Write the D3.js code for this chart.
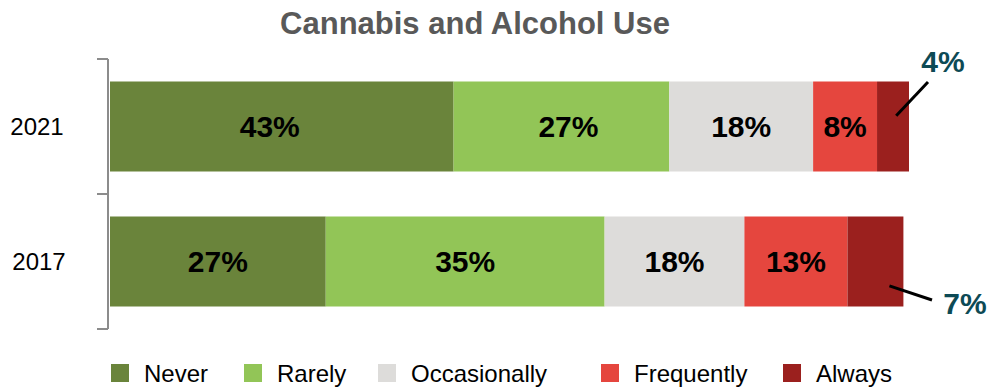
<!DOCTYPE html>
<html>
<head>
<meta charset="utf-8">
<script src="https://cdn.jsdelivr.net/npm/d3@7"></script>
<style>
  body { margin: 0; background: #fff; }
  svg { font-family: "Liberation Sans", Arial, sans-serif; }
</style>
</head>
<body>
<div id="chart"></div>
<script>
const years = ["2021", "2017"];
const categories = ["Never", "Rarely", "Occasionally", "Frequently", "Always"];
const colors = ["#6a843b", "#92c557", "#dddcda", "#e5463e", "#9b201e"];
const values2021 = [43, 27, 18, 8, 4];
const values2017 = [27, 34.9, 17.5, 12.9, 7];

const width = 988;
const height = 388;

const svg = d3.select("#chart")
  .append("svg")
  .attr("width", width)
  .attr("height", height);

const x = d3.scaleLinear().domain([0, 100]).range([110, 909]);
const y = d3.scaleBand()
  .domain(years)
  .range([59, 329])
  .paddingInner(1 / 3)
  .paddingOuter(1 / 6);

const rows = [values2021, values2017].map((vals, i) => {
  let acc = 0;
  return vals.map((v, j) => {
    const seg = { year: years[i], cat: categories[j], color: colors[j], value: v, x0: acc, x1: acc + v };
    acc += v;
    return seg;
  });
});

// Title
svg.append("text")
  .attr("x", 475)
  .attr("y", 34)
  .attr("text-anchor", "middle")
  .attr("font-size", 31)
  .attr("font-weight", "bold")
  .attr("fill", "#595959")
  .text("Cannabis and Alcohol Use");

// Bars
const segs = rows.flat();
svg.selectAll("rect.seg")
  .data(segs)
  .enter()
  .append("rect")
  .attr("class", "seg")
  .attr("x", (d) => x(d.x0))
  .attr("y", (d) => y(d.year))
  .attr("width", (d) => x(d.x1) - x(d.x0))
  .attr("height", y.bandwidth())
  .attr("fill", (d) => d.color);

// labels in the original aren't all perfectly centred
const nudge = { "2021 Never": -12, "2021 Rarely": 7 };

// Inside labels (all except Always)
svg.selectAll("text.inlab")
  .data(segs.filter((d) => d.cat !== "Always"))
  .enter()
  .append("text")
  .attr("class", "inlab")
  .attr("x", (d) => (x(d.x0) + x(d.x1)) / 2 + (nudge[d.year + " " + d.cat] || 0))
  .attr("y", (d) => y(d.year) + y.bandwidth() / 2)
  .attr("dy", "0.36em")
  .attr("text-anchor", "middle")
  .attr("font-size", 30)
  .attr("font-weight", "bold")
  .attr("fill", "#000")
  .text((d) => Math.round(d.value) + "%");

// Outside labels for Always with leader lines
const always = segs.filter((d) => d.cat === "Always");
const callouts = [
  { from: [0.6, 0.38], to: [928, 82], lab: [943, 72] },
  { from: [0.75, 0.77], to: [932, 300], lab: [965, 314] }
];
always.forEach((d, i) => {
  const c = callouts[i];
  const fx = x(d.x0) + (x(d.x1) - x(d.x0)) * c.from[0];
  const fy = y(d.year) + y.bandwidth() * c.from[1];
  svg.append("line")
    .attr("x1", fx).attr("y1", fy)
    .attr("x2", c.to[0]).attr("y2", c.to[1])
    .attr("stroke", "#000")
    .attr("stroke-width", 3);
  svg.append("text")
    .attr("x", c.lab[0])
    .attr("y", c.lab[1])
    .attr("text-anchor", "middle")
    .attr("font-size", 30)
    .attr("font-weight", "bold")
    .attr("fill", "#0d4a55")
    .text(Math.round(d.value) + "%");
});

// Bracket axis
const axisG = svg.append("g").attr("stroke", "#8c8c8c").attr("stroke-width", 2).attr("fill", "none");
axisG.append("line")
  .attr("x1", 108).attr("x2", 108)
  .attr("y1", y.range()[0]).attr("y2", y.range()[1]);
const boundaries = [y.range()[0], y(years[1]) - y.step() * y.paddingInner() / 2, y.range()[1]];
axisG.selectAll("line.tick")
  .data(boundaries)
  .enter()
  .append("line")
  .attr("class", "tick")
  .attr("x1", 97).attr("x2", 108)
  .attr("y1", (d) => d).attr("y2", (d) => d);

svg.selectAll("text.year")
  .data(years)
  .enter()
  .append("text")
  .attr("class", "year")
  .attr("x", (d, i) => (i === 0 ? 37 : 39))
  .attr("y", (d) => y(d) + y.bandwidth() / 2)
  .attr("dy", "0.36em")
  .attr("text-anchor", "middle")
  .attr("font-size", 24)
  .attr("fill", "#000")
  .text((d) => d);

// Legend
const legendX = [111, 244, 378, 601, 783];
const lg = svg.selectAll("g.leg")
  .data(categories)
  .enter()
  .append("g")
  .attr("class", "leg")
  .attr("transform", (d, i) => `translate(${legendX[i]},373)`);
lg.append("rect")
  .attr("x", 0).attr("y", -9)
  .attr("width", 18).attr("height", 18)
  .attr("fill", (d, i) => colors[i]);
lg.append("text")
  .attr("x", 33)
  .attr("dy", "0.36em")
  .attr("font-size", 24)
  .attr("fill", "#000")
  .text((d) => d);
</script>
</body>
</html>
